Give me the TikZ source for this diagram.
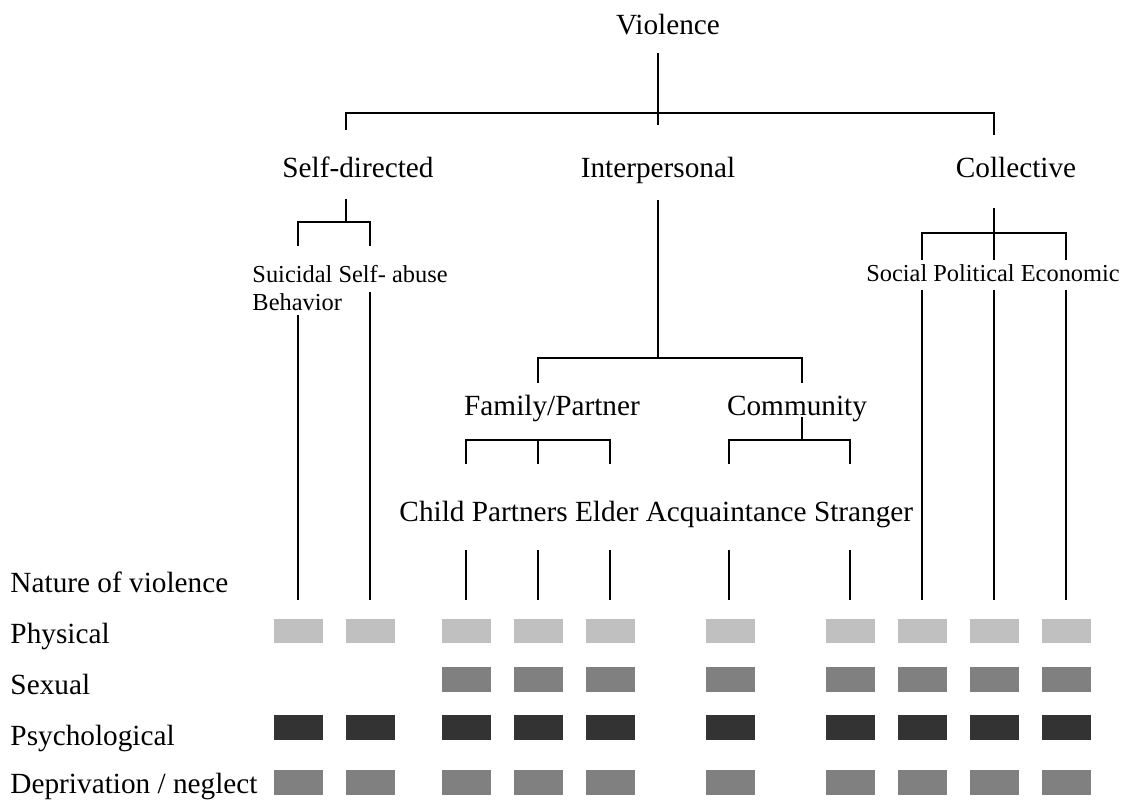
\documentclass[tikz,border=0pt]{standalone}
\usepackage{fontspec}
\setmainfont{Liberation Serif}

\definecolor{physgray}{HTML}{C0C0C0}
\definecolor{sexgray}{HTML}{808080}
\definecolor{psygray}{HTML}{333333}
\definecolor{depgray}{HTML}{808080}

\tikzset{
  lbl/.style={inner sep=0pt,font=\fontsize{12}{14}\selectfont},
  sublbl/.style={inner sep=0pt,font=\fontsize{10}{11.5}\selectfont},
  link/.style={line width=0.9pt},
}

\begin{document}
\begin{tikzpicture}[x=0.41pt,y=-0.41pt]
  \useasboundingbox (0,0) rectangle (1125,802);
  % type labels
  \node[lbl,anchor=base] (viol) at (668,35) {Violence};
  \node[lbl,anchor=base] (selfdir) at (358,178) {Self-directed};
  \node[lbl,anchor=base] (interp) at (658,178) {Interpersonal};
  \node[lbl,anchor=base] (collect) at (1016,178) {Collective};
  \node[sublbl,anchor=north west,align=left] (suiabu) at (252,265) {Suicidal Self- abuse\\Behavior};
  \node[sublbl,anchor=base] (socpol) at (993,282) {Social Political Economic};
  \node[lbl,anchor=base] (fampart) at (552,416) {Family/Partner};
  \node[lbl,anchor=base] (commun) at (797,416) {Community};
  \node[lbl,anchor=base west] (victims) at (399,522) {Child Partners Elder Acquaintance Stranger};
  % nature of violence
  \node[lbl,anchor=base west] (nature) at (10,593) {Nature of violence};
  \node[lbl,anchor=base west] (phys) at (10,644) {Physical};
  \node[lbl,anchor=base west] (sex) at (10,694) {Sexual};
  \node[lbl,anchor=base west] (psych) at (10,745) {Psychological};
  \node[lbl,anchor=base west] (depriv) at (10,793) {Deprivation / neglect};

  % violence -> three types
  \coordinate (vtop) at (658,53);
  \coordinate (vbar) at (658,113);
  \coordinate (vend) at (658,125);
  \coordinate (sdup) at (346,130);
  \coordinate (coup) at (994,135);
  \draw[link] (vtop) -- (vend);
  \draw[link] (sdup) |- (vbar) -| (coup);

  % self-directed
  \coordinate (sdtop) at (346,199);
  \coordinate (sdbar) at (346,222);
  \coordinate (suiup) at (298,246);
  \coordinate (abuup) at (370,246);
  \draw[link] (sdtop) -- (sdbar);
  \draw[link] (suiup) |- (sdbar) -| (abuup);
  \coordinate (suia) at (298,315);
  \coordinate (suib) at (298,600);
  \coordinate (abua) at (370,292);
  \coordinate (abub) at (370,600);
  \draw[link] (suia) -- (suib);
  \draw[link] (abua) -- (abub);

  % interpersonal
  \coordinate (iptop) at (658,200);
  \coordinate (ipbar) at (658,358);
  \coordinate (fpup) at (538,383);
  \coordinate (cmup) at (802,383);
  \draw[link] (iptop) -- (ipbar);
  \draw[link] (fpup) |- (ipbar) -| (cmup);
  \coordinate (fpbar) at (538,440);
  \coordinate (fpmid) at (538,464);
  \coordinate (chup) at (466,464);
  \coordinate (elup) at (610,464);
  \draw[link] (fpbar) -- (fpmid);
  \draw[link] (chup) |- (fpbar) -| (elup);
  \coordinate (cmtop) at (802,417);
  \coordinate (cmbar) at (802,440);
  \coordinate (acup) at (729,464);
  \coordinate (stup) at (850,464);
  \draw[link] (cmtop) -- (cmbar);
  \draw[link] (acup) |- (cmbar) -| (stup);
  \foreach \x/\n in {466/ch,538/pa,610/el,729/ac,850/st} {
    \coordinate (\n-a) at (\x,550);
    \coordinate (\n-b) at (\x,600);
    \draw[link] (\n-a) -- (\n-b);
  }

  % collective
  \coordinate (cotop) at (994,208);
  \coordinate (cobar) at (994,233);
  \coordinate (comid) at (994,260);
  \coordinate (soup) at (922,260);
  \coordinate (ecup) at (1066,260);
  \draw[link] (cotop) -- (comid);
  \draw[link] (soup) |- (cobar) -| (ecup);
  \foreach \x/\n in {922/so,994/po,1066/ec} {
    \coordinate (\n-a) at (\x,290);
    \coordinate (\n-b) at (\x,600);
    \draw[link] (\n-a) -- (\n-b);
  }

  % nature of violence boxes
  \foreach \x in {274,346,442,514,586,706,826,898,970,1042}
    \fill[physgray] (\x,619) rectangle ++(49,24);
  \foreach \x in {442,514,586,706,826,898,970,1042}
    \fill[sexgray] (\x,667) rectangle ++(49,25);
  \foreach \x in {274,346,442,514,586,706,826,898,970,1042}
    \fill[psygray] (\x,715) rectangle ++(49,25);
  \foreach \x in {274,346,442,514,586,706,826,898,970,1042}
    \fill[depgray] (\x,770) rectangle ++(49,25);
\end{tikzpicture}
\end{document}
